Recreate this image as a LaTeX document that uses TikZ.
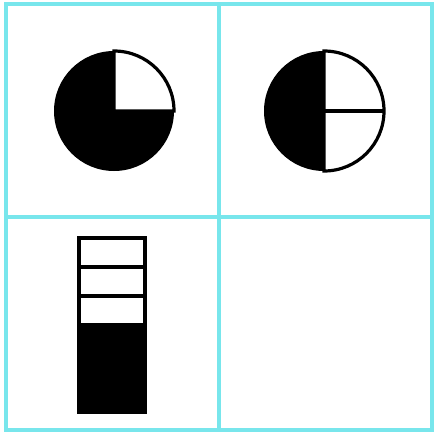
\documentclass[tikz,border=0pt]{standalone}
\definecolor{gridcyan}{RGB}{120,230,236}
\begin{document}
\begin{tikzpicture}[x=1pt,y=-1pt,line width=3.2pt]
  \useasboundingbox (0,0) rectangle (436,434);
  % grid
  \draw[gridcyan,line width=3.2pt] (6,4) rectangle (432,430);
  \draw[gridcyan,line width=3.2pt] (219,4)--(219,430);
  \draw[gridcyan,line width=3.2pt] (6,217)--(432,217);
  % three quarters
  \coordinate (ca) at (114,111);
  \fill[black] (ca) circle (60);
  \filldraw[fill=white,draw=black] (ca)--++(60,0) arc (0:-90:60)--cycle;
  % one half
  \coordinate (cb) at (324,111);
  \fill[black] (cb) circle (60);
  \filldraw[fill=white,draw=black] (cb)--++(0,-60) arc (-90:90:60)--cycle;
  \draw (cb)--++(60,0);
  % bar
  \fill[black] (79,323) rectangle (145,412);
  \draw (79,238) rectangle (145,412);
  \draw (79,267)--(145,267);
  \draw (79,296)--(145,296);
\end{tikzpicture}
\end{document}
